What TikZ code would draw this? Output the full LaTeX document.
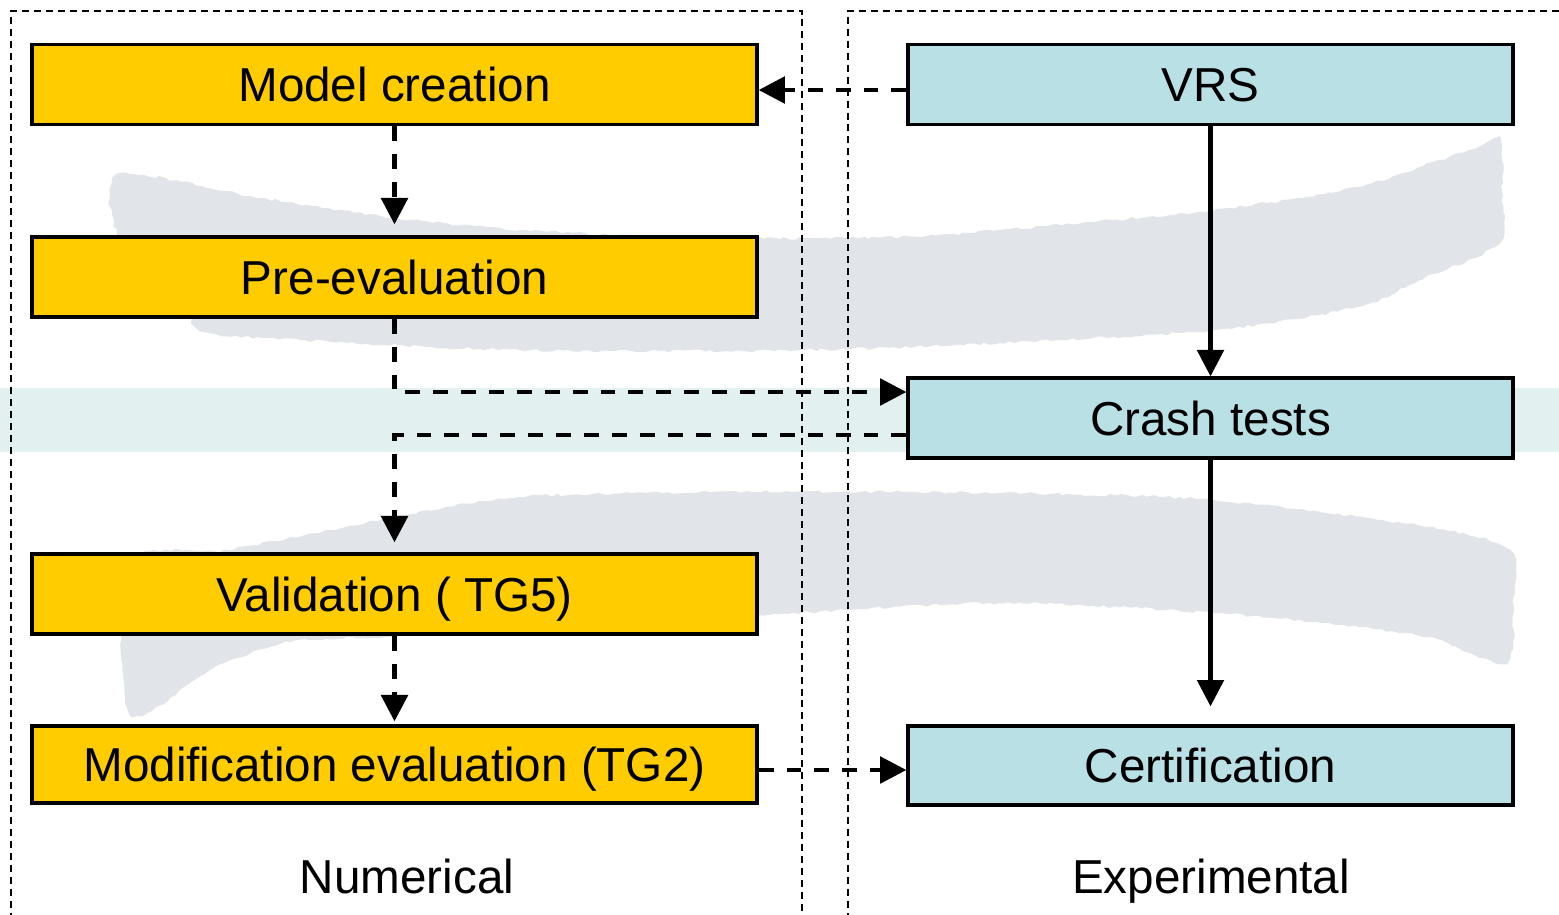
\documentclass[tikz,border=0pt]{standalone}
\usepackage{fontspec}
\setmainfont{Liberation Sans}
\usetikzlibrary{arrows.meta,decorations.pathmorphing}

\definecolor{numfill}{HTML}{FFCC00}
\definecolor{expfill}{HTML}{B9E0E4}
\definecolor{brushgray}{HTML}{E1E4E8}
\definecolor{bandteal}{HTML}{E3F0F0}

\tikzset{
  stepbox/.style={draw=black, line width=1.9pt, inner sep=0pt,
    minimum height=1.6cm, text height=0.68cm, text depth=0cm,
    font=\fontsize{27.1pt}{32pt}\selectfont},
  numbox/.style={stepbox, fill=numfill, minimum width=14.5cm},
  expbox/.style={stepbox, fill=expfill, minimum width=12.1cm},
  frameline/.style={line width=0.9pt, dash pattern=on 4pt off 2.8pt},
  tipshape/.style={-{Triangle[length=15pt,width=15pt]}},
  dconn/.style={tipshape, line width=2.6pt, dash pattern=on 8.5pt off 7.4pt},
  sconn/.style={tipshape, line width=2.4pt},
  colname/.style={text height=0.68cm, text depth=0cm, inner sep=0pt,
    font=\fontsize{27.1pt}{32pt}\selectfont},
  brush/.style={fill=brushgray, decoration={random steps, segment length=3pt, amplitude=0.8pt}, decorate}
}

\begin{document}
\begin{tikzpicture}[x=0.02cm, y=-0.02cm]
\useasboundingbox (0,0) rectangle (1559,914);
\fill[white] (0,0) rectangle (1559,914);

% brush-stroke background shapes
\path[brush] plot[smooth cycle, tension=0.5] coordinates {
  (118,175) (250,196) (380,216) (520,230) (700,238) (900,237) (1000,230)
  (1214,210) (1357,187) (1440,160) (1480,146) (1500,140) (1502,190)
  (1499,243) (1420,280) (1357,307) (1214,330) (1000,343) (800,350)
  (520,350) (300,340) (205,332) (185,310) (122,245)};
\path[brush] plot[smooth cycle, tension=0.5] coordinates {
  (127,562) (227,550) (380,520) (520,497) (760,492) (1000,493) (1214,500)
  (1428,527) (1510,550) (1513,600) (1506,663) (1428,637) (1321,623)
  (1214,613) (1000,603) (757,615) (400,636) (290,642) (210,670)
  (160,705) (127,707)};
\fill[bandteal] (0,388) rectangle (1559,452);

% column frames
\draw[frameline] (11,920) -- (11,11) -- (802,11) -- (802,920);
\draw[frameline] (848,920) -- (848,11) -- (1570,11);

% numerical steps
\node[numbox] (model) at (394.5,84.5) {Model creation};
\node[numbox] (pre)   at (394.5,277)  {Pre-evaluation};
\node[numbox] (val)   at (394.5,594)  {Validation ( TG5)};
\node[numbox, minimum height=1.54cm] (mod) at (394.5,764.5) {Modification evaluation (TG2)};

% experimental steps
\node[expbox] (vrs)   at (1210.5,84.5) {VRS};
\node[expbox] (crash) at (1210.5,418)  {Crash tests};
\node[expbox, minimum height=1.58cm] (cert) at (1210.5,765.5) {Certification};

% column titles
\node[colname] (numlbl) at (407,876)  {Numerical};
\node[colname] (explbl) at (1211,876) {Experimental};

% routing levels
\coordinate (ya) at (0,90);
\coordinate (yb) at (0,392);
\coordinate (yc) at (0,435);
\coordinate (yd) at (0,770);

% connectors
\draw[dconn] (vrs.west |- ya) -- (model.east |- ya);
\draw[dconn, shorten >=0.22cm] (model.south) -- (pre.north);
\draw[dconn] (pre.south) -- (pre.south |- yb) -- (crash.west |- yb);
\draw[dconn, shorten >=0.2cm] (crash.west |- yc) -- (val.north |- yc) -- (val.north);
\draw[dconn, shorten >=0.06cm] (val.south) -- (mod.north);
\draw[dconn] (mod.east |- yd) -- (cert.west |- yd);
\draw[sconn] (vrs.south) -- (crash.north);
\draw[sconn, shorten >=0.36cm] (crash.south) -- (cert.north);
\end{tikzpicture}
\end{document}
